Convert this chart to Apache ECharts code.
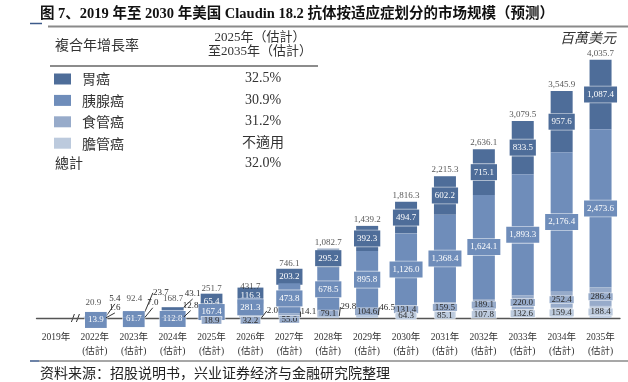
<!DOCTYPE html>
<html><head><meta charset="utf-8">
<script src="https://cdn.jsdelivr.net/npm/echarts@6/dist/echarts.min.js"></script>
<style>html,body{margin:0;padding:0;background:#fff}#c{width:628px;height:382px}</style>
</head><body><div id="c"></div>
<script>
// ---------- data ----------
const titleText = '图 7、2019 年至 2030 年美国 Claudin 18.2 抗体按适应症划分的市场规模（预测）';
const sourceText = '资料来源：招股说明书，兴业证券经济与金融研究院整理';
const unitText = '百萬美元';
const categories = ['2019年','2022年\n(估計)','2023年\n(估計)','2024年\n(估計)','2025年\n(估計)','2026年\n(估計)','2027年\n(估計)','2028年\n(估計)','2029年\n(估計)','2030年\n(估計)','2031年\n(估計)','2032年\n(估計)','2033年\n(估計)','2034年\n(估計)','2035年\n(估計)'];
const seriesNames = ['胃癌','胰腺癌','食管癌','膽管癌'];
const weiai   = [null,5.4,23.7,43.1,65.4,116.3,203.2,295.2,392.3,494.7,602.2,715.1,833.5,957.6,1087.4];
const yixian  = [null,13.9,61.7,112.8,167.4,281.3,473.8,678.5,895.8,1126.0,1368.4,1624.1,1893.3,2176.4,2473.6];
const shiguan = [null,1.6,7.0,12.8,18.9,32.2,55.0,79.1,104.6,131.4,159.5,189.1,220.0,252.4,286.4];
const danguan = [null,0,0,0,0,2.0,14.1,29.8,46.5,64.3,85.1,107.8,132.6,159.4,188.4];
const totals  = [null,20.9,92.4,168.7,251.7,431.7,746.1,1082.7,1439.2,1816.3,2215.3,2636.1,3079.5,3545.9,4035.7];
const cagrHeader = ['複合年增長率','2025年（估計）','至2035年（估計）'];
const cagrValues = ['32.5%','30.9%','31.2%','不適用'];
const totalRowName = '總計';
const totalCagr = '32.0%';

// ---------- styling (kept separate from data) ----------
const colors = {'胃癌':'#4e6d99','胰腺癌':'#6f8dba','食管癌':'#97abca','膽管癌':'#bccadd'};
const textColors = {'胃癌':'#ffffff','胰腺癌':'#ffffff','食管癌':'#2b2b2b','膽管癌':'#2b2b2b'};
const zOrder = {'膽管癌':5,'食管癌':4,'胰腺癌':3,'胃癌':2};
const boxStyle = {
  '胃癌':{padding:[3,3], lineHeight:10},
  '胰腺癌':{padding:[3,3], lineHeight:10},
  '食管癌':{padding:[0,2], lineHeight:7},
  '膽管癌':{padding:[0,2], lineHeight:7}
};
// label shifts: [dx, dy, leaderLine]
const shifts = {
  '膽管癌': {5:[22,-7,1],6:[19,-6,1],7:[20,-10,1],8:[20,-9,1]},
  '食管癌': {1:[20,-10,1],2:[19,-15,1],3:[18,-12,1],4:[0,3],5:[0,3.5],6:[0,4],7:[0,0.5]},
  '胰腺癌': {1:[1,2.5],2:[0,3.5],3:[0,5.4],4:[0,0.6],5:[0,0.5]},
  '胃癌':   {1:[20,-18,1],2:[27,-20,1],3:[20,-14.6,1],4:[0,-2.3],5:[0,1.5]},
  '合計':   {1:[-1.5,-8],2:[0.5,-6.6],3:[0.5,-1.7],4:[0,-7],5:[0,3]}
};
const serif = "'Liberation Serif','Noto Sans CJK TC',serif";
const serifSC = "'Liberation Serif','Noto Sans CJK SC',serif";
const cjk = "'Noto Sans CJK TC',sans-serif";
const cjkSC = "'Noto Sans CJK SC',sans-serif";

function fmt(v){ return Number(v).toLocaleString('en-US',{minimumFractionDigits:1,maximumFractionDigits:1}); }

const valuesByName = {'胃癌':weiai,'胰腺癌':yixian,'食管癌':shiguan,'膽管癌':danguan};

function mkSeries(name){
  const vals = valuesByName[name];
  const sh = shifts[name] || {};
  return {
    name, type:'bar', stack:'total', barWidth:22, z: zOrder[name],
    data: vals.map((v,i)=>{
      const item = {value: v};
      const s = sh[i];
      if (v === 0 || v == null) item.label = {show:false};
      else if (s && s[2]) {
        item.label = {backgroundColor:'transparent', borderWidth:0, color:'#2b2b2b', padding:0, lineHeight:10};
        item.labelLine = {show:true, lineStyle:{color:'#333', width:1}};
      }
      return item;
    }),
    itemStyle:{color: colors[name]},
    label:{show:true, position:'inside', formatter:p=>fmt(p.value), fontFamily:serif, fontSize:9, lineHeight:boxStyle[name].lineHeight,
      color:textColors[name], backgroundColor:colors[name], borderColor:'rgba(255,255,255,0.65)', borderWidth:0.8, padding:boxStyle[name].padding},
    labelLine:{show:false, lineStyle:{color:'#333', width:1}},
    labelLayout: p => { const s = sh[p.dataIndex]; return s ? {dx:s[0], dy:s[1]} : {}; },
    emphasis:{disabled:true}, silent:true
  };
}

const chart = echarts.init(document.getElementById('c'), null, {renderer:'canvas'});
const series = ['膽管癌','食管癌','胰腺癌','胃癌'].map(mkSeries);
series.push({
  name:'合計', type:'scatter', data: totals, symbolSize:1, itemStyle:{color:'rgba(0,0,0,0)'}, z:6,
  label:{show:true, position:'top', distance:1, formatter:p=>fmt(p.value), fontFamily:serif, fontSize:9, lineHeight:10, color:'#2b2b2b'},
  labelLayout: p => { const s = shifts['合計'][p.dataIndex]; return s ? {dx:s[0], dy:s[1]} : {}; },
  silent:true
});

chart.setOption({
  animation:false,
  backgroundColor:'#fff',
  title:{text:titleText, left:40, top:7, padding:0, textStyle:{fontSize:14.5, fontWeight:'bold', fontFamily:serifSC, color:'#111'}},
  legend:{data:seriesNames, orient:'vertical', left:54, top:72, padding:0, itemWidth:17, itemHeight:11, itemGap:7.4,
    icon:'rect', selectedMode:false,
    textStyle:{fontFamily:cjk, fontSize:14, lineHeight:13, color:'#333', padding:[0,0,0,6]}},
  grid:{left:36.5, right:8, top:30, bottom:64},
  xAxis:{type:'category', data:categories,
    axisLine:{show:true, lineStyle:{color:'#555', width:1.3}}, axisTick:{show:false},
    axisLabel:{interval:0, fontFamily:serif, fontSize:9.5, lineHeight:14, color:'#333', margin:12}},
  yAxis:{type:'value', min:0, max:4500, show:false, splitLine:{show:false}},
  series
});

const xa = chart.convertToPixel({xAxisIndex:0}, 0);
const xb = chart.convertToPixel({xAxisIndex:0}, 1);
const yb = chart.convertToPixel({yAxisIndex:0}, 0);
const xm = (xa + xb) / 2;

const g = [];
// title rules
g.push({type:'line', shape:{x1:30,y1:23.5,x2:42,y2:23.5}, style:{stroke:'#3c5a8a', lineWidth:1.5}});
g.push({type:'line', shape:{x1:48,y1:26.5,x2:628,y2:26.5}, style:{stroke:'#8a8a8a', lineWidth:2.2}});
// table header
g.push({type:'text', x:55, y:45, style:{text:cagrHeader[0], fontFamily:cjk, fontSize:14, fill:'#333', verticalAlign:'middle'}});
g.push({type:'text', x:260, y:38, style:{text:cagrHeader[1], fontFamily:serif, fontSize:13, fill:'#333', align:'center', verticalAlign:'middle'}});
g.push({type:'text', x:260, y:52, style:{text:cagrHeader[2], fontFamily:serif, fontSize:13, fill:'#333', align:'center', verticalAlign:'middle'}});
g.push({type:'line', shape:{x1:50,y1:66,x2:318,y2:66}, style:{stroke:'#666', lineWidth:1.3}});
const rowY = [78.3,100,121.7,143.4];
cagrValues.forEach((t,i)=>g.push({type:'text', x:263, y:rowY[i], style:{text:t, fontFamily:serif, fontSize:14, fill:'#333', align:'center', verticalAlign:'middle'}}));
g.push({type:'text', x:55, y:163, style:{text:totalRowName, fontFamily:cjk, fontSize:14, fill:'#333', verticalAlign:'middle'}});
g.push({type:'text', x:263, y:163, style:{text:totalCagr, fontFamily:serif, fontSize:14, fill:'#333', align:'center', verticalAlign:'middle'}});
// unit
g.push({type:'text', x:588, y:38, style:{text:unitText, fontFamily:cjk, fontSize:14, fontStyle:'italic', fill:'#333', align:'center', verticalAlign:'middle'}});
// axis break
g.push({type:'line', shape:{x1:xm-4,y1:yb+4,x2:xm-1,y2:yb-4}, style:{stroke:'#333', lineWidth:1}});
g.push({type:'line', shape:{x1:xm+1,y1:yb+4,x2:xm+4,y2:yb-4}, style:{stroke:'#333', lineWidth:1}});
// footer
g.push({type:'line', shape:{x1:30,y1:361,x2:39,y2:361}, style:{stroke:'#3c5a8a', lineWidth:1.5}});
g.push({type:'line', shape:{x1:39,y1:361,x2:628,y2:361}, style:{stroke:'#8a8a8a', lineWidth:1.5}});
g.push({type:'text', x:40, y:373, style:{text:sourceText, fontFamily:cjkSC, fontSize:14, fill:'#222', verticalAlign:'middle'}});

chart.setOption({graphic:g});
</script>
</body></html>
